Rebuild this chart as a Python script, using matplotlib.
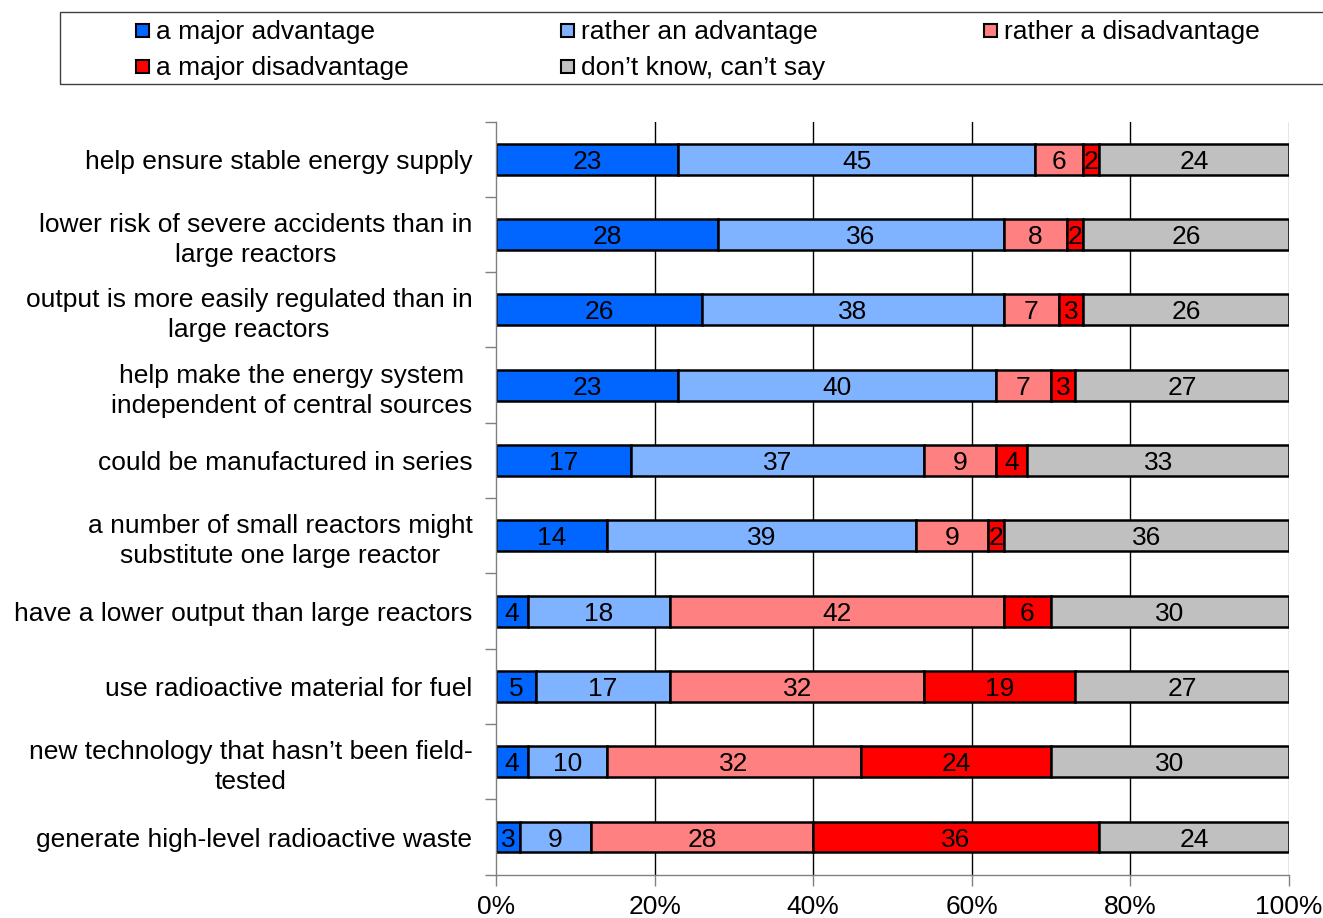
import matplotlib
matplotlib.use("Agg")
import matplotlib.pyplot as plt
from matplotlib.patches import Rectangle
import numpy as np

plt.rcParams['font.family'] = ['Liberation Sans', 'DejaVu Sans']

categories = [
    "help ensure stable energy supply",
    "lower risk of severe accidents than in\nlarge reactors",
    "output is more easily regulated than in\nlarge reactors",
    "help make the energy system\nindependent of central sources",
    "could be manufactured in series",
    "a number of small reactors might\nsubstitute one large reactor",
    "have a lower output than large reactors",
    "use radioactive material for fuel",
    "new technology that hasn\u2019t been field-\ntested",
    "generate high-level radioactive waste",
]

series_names = [
    "a major advantage",
    "rather an advantage",
    "rather a disadvantage",
    "a major disadvantage",
    "don\u2019t know, can\u2019t say",
]

major_adv = [23, 28, 26, 23, 17, 14, 4, 5, 4, 3]
rather_adv = [45, 36, 38, 40, 37, 39, 18, 17, 10, 9]
rather_disadv = [6, 8, 7, 7, 9, 9, 42, 32, 32, 28]
major_disadv = [2, 2, 3, 3, 4, 2, 6, 19, 24, 36]
dont_know = [24, 26, 26, 27, 33, 36, 30, 27, 30, 24]

colors = ["#0066FF", "#80B3FF", "#FF8080", "#FF0000", "#C0C0C0"]

x_ticks = [0, 20, 40, 60, 80, 100]
x_tick_labels = ["0%", "20%", "40%", "60%", "80%", "100%"]

W, H = 1323, 918
fig = plt.figure(figsize=(W / 100, H / 100), dpi=100)
ax = fig.add_axes([496 / W, 1 - 874.7 / H, (1289 - 496) / W, (874.7 - 121.5) / H])

data = np.array([major_adv, rather_adv, rather_disadv, major_disadv, dont_know], dtype=float)
n = len(categories)
y = np.arange(n)
left = np.zeros(n)
fs = 19

# Vertical gridlines behind the bars
for xv in x_ticks[1:-1]:
    ax.axvline(xv, color="black", lw=1.0, zorder=0)
ax.axvline(100, color="#808080", lw=1.0, zorder=0)

for vals, col in zip(data, colors):
    ax.barh(y, vals, left=left, height=0.41, color=col, edgecolor="black",
            linewidth=1.8, zorder=2)
    for yi, (l, v) in enumerate(zip(left, vals)):
        ax.text(l + v / 2, yi, f"{int(v)}", ha="center", va="center_baseline",
                fontsize=fs, color="black", zorder=3)
    left += vals

ax.set_xlim(0, 100)
ax.set_ylim(n - 0.5, -0.5)

ax.set_xticks(x_ticks)
ax.set_xticklabels(x_tick_labels, fontsize=fs)
ax.set_yticks(y)
ax.set_yticklabels(categories, fontsize=fs, ha="right", multialignment="center",
                   linespacing=1.32)
ax.tick_params(axis="y", which="major", length=0, pad=17)
ax.set_yticks(np.arange(-0.5, n, 1.0), minor=True)
ax.tick_params(axis="y", which="minor", length=8, width=1, color="#808080", direction="out")
ax.tick_params(axis="x", which="major", length=8, width=1, color="#808080", direction="out", pad=6.5)

for side in ["top", "right"]:
    ax.spines[side].set_visible(False)
for side in ["left", "bottom"]:
    ax.spines[side].set_color("#808080")
    ax.spines[side].set_linewidth(1.0)

# Legend drawn as a framed box across the top
fig.patches.append(Rectangle((60 / W, 1 - 84 / H), (1330 - 60) / W, (84 - 12) / H,
                             transform=fig.transFigure, fill=False,
                             edgecolor="#404040", linewidth=1.0))
col_x = [136, 561, 984]
row_y = [30, 66]
for i, (name, col) in enumerate(zip(series_names, colors)):
    r, c = divmod(i, 3)
    sx = col_x[c]
    sy = row_y[r]
    fig.patches.append(Rectangle((sx / W, 1 - (sy + 7) / H), 13 / W, 13 / H,
                                 transform=fig.transFigure, facecolor=col,
                                 edgecolor="black", linewidth=1.5))
    fig.text((sx + 20) / W, 1 - sy / H, name, ha="left", va="center_baseline", fontsize=fs)

fig.savefig("out.png", dpi=100)
